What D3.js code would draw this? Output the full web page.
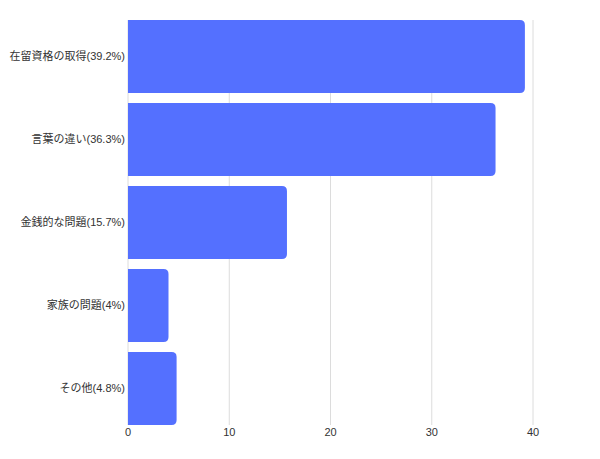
<!DOCTYPE html>
<html>
<head>
<meta charset="utf-8">
<script src="https://cdn.jsdelivr.net/npm/d3@7"></script>
<style>
  body { margin: 0; background: #fff; }
  text { font-family: "Liberation Sans", "Noto Sans CJK JP", sans-serif; fill: #333; }
</style>
</head>
<body>
<script>
// データ
var categories = ["在留資格の取得(39.2%)", "言葉の違い(36.3%)", "金銭的な問題(15.7%)", "家族の問題(4%)", "その他(4.8%)"];
var values = [39.2, 36.3, 15.7, 4, 4.8];
var xTicks = [0, 10, 20, 30, 40];

var width = 600, height = 459;
var plotLeft = 128, plotRight = 533, plotTop = 20, plotBottom = 425;

var svg = d3.select("body").append("svg")
    .attr("width", width)
    .attr("height", height);

var x = d3.scaleLinear().domain([0, 40]).range([plotLeft, plotRight]);
var y = d3.scaleBand().domain(categories).range([plotTop, plotBottom])
    .paddingInner(0.12).paddingOuter(0);

// グリッド線
svg.append("g")
    .selectAll("line")
    .data(xTicks)
    .enter().append("line")
    .attr("x1", function(d) { return x(d); })
    .attr("x2", function(d) { return x(d); })
    .attr("y1", plotTop)
    .attr("y2", plotBottom)
    .attr("stroke", "#dcdcdc")
    .attr("stroke-width", 1);

// 棒（右側だけ角丸）
var r = 5;
svg.append("g")
    .selectAll("path")
    .data(values)
    .enter().append("path")
    .attr("fill", "#5470ff")
    .attr("d", function(d, i) {
      var x0 = x(0), x1 = x(d), y0 = y(categories[i]), h = y.bandwidth();
      return "M" + x0 + "," + y0 +
        "H" + (x1 - r) +
        "Q" + x1 + "," + y0 + " " + x1 + "," + (y0 + r) +
        "V" + (y0 + h - r) +
        "Q" + x1 + "," + (y0 + h) + " " + (x1 - r) + "," + (y0 + h) +
        "H" + x0 + "Z";
    });

// カテゴリラベル
svg.append("g")
    .selectAll("text")
    .data(categories)
    .enter().append("text")
    .attr("x", plotLeft - 3)
    .attr("y", function(d) { return y(d) + y.bandwidth() / 2; })
    .attr("dy", "0.35em")
    .attr("text-anchor", "end")
    .attr("font-size", "11px")
    .text(function(d) { return d; });

// X軸ラベル
svg.append("g")
    .selectAll("text")
    .data(xTicks)
    .enter().append("text")
    .attr("x", function(d) { return x(d); })
    .attr("y", plotBottom + 7)
    .attr("dy", "0.35em")
    .attr("text-anchor", "middle")
    .attr("font-size", "11px")
    .text(function(d) { return d; });
</script>
</body>
</html>
